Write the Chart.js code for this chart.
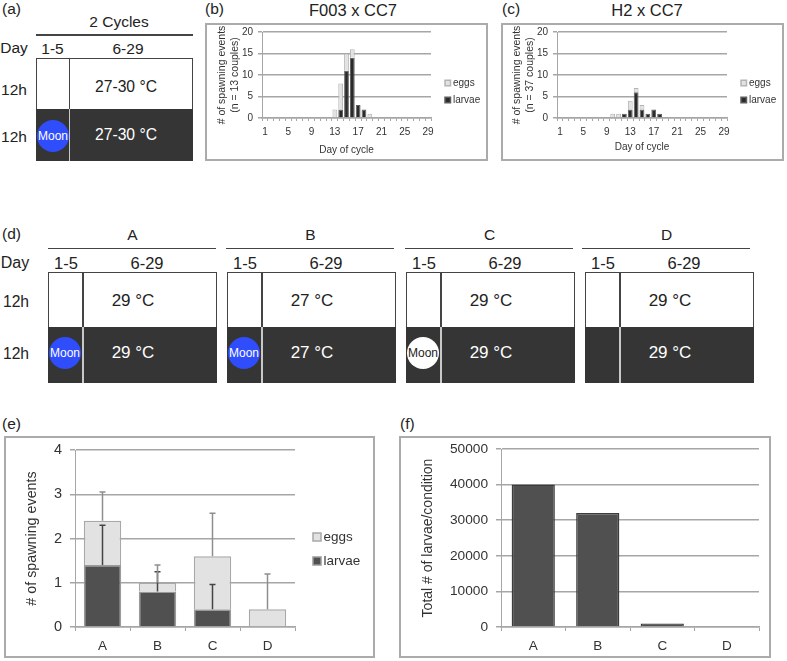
<!DOCTYPE html>
<html>
<head>
<meta charset="utf-8">
<script src="https://cdn.jsdelivr.net/npm/chart.js@4"></script>
<style>
  html, body { margin: 0; padding: 0; background: #fff; }
  #page { position: relative; width: 787px; height: 661px; overflow: hidden; font-family: "Liberation Sans", Arial, sans-serif; color: #222; }
  .txt { position: absolute; white-space: nowrap; transform: translate(-50%, -50%); line-height: 1; }
  .lbl { position: absolute; white-space: nowrap; font-size: 15.5px; line-height: 1; }
  .rect { position: absolute; box-sizing: border-box; }
  .frame { position: absolute; box-sizing: border-box; border: 2px solid #ababab; background: #fff; }
  canvas { position: absolute; }
</style>
</head>
<body>
<div id="page"></div>
<script>
Chart.defaults.font.family = '"Liberation Sans", Arial, sans-serif';
Chart.defaults.color = '#333';

// panels b and c, spawning events per day of cycle
const days = ['1','2','3','4','5','6','7','8','9','10','11','12','13','14','15','16','17','18','19','20','21','22','23','24','25','26','27','28','29'];
const dayLabels = ['1','5','9','13','17','21','25','29'];
const f003Larvae = [null,null,null,null,null,null,null,null,null,null,null,null,null,2,11,14,3,2,null,null,null,null,null,null,null,null,null,null,null];
const f003Eggs   = [null,null,null,null,null,null,null,null,null,null,null,null,2,6,4,2,null,null,1,null,null,null,null,null,null,null,null,null,null];
const h2Larvae   = [null,null,null,null,null,null,null,null,null,null,null,1,2,6,2,1,2,1,null,null,null,null,null,null,null,null,null,null,null];
const h2Eggs     = [null,null,null,null,null,null,null,null,null,1,1,null,2,1,1,null,null,null,null,null,null,null,null,null,null,null,null,null,null];

// panels e and f
const conditions = ['A','B','C','D'];
const larvaeMean = [1.4,0.8,0.4,null];
const eggsMean   = [1.0,0.2,1.2,0.4];
const larvaeErr  = [0.9,0.45,0.56,null];
const eggsErr    = [0.65,0.4,0.97,0.8];
const larvaeTotal = [40000,32000,1000,0];

// schedule panels a and d
const scheduleD = [
  { name: 'A', temp: '29 °C', moon: 'blue' },
  { name: 'B', temp: '27 °C', moon: 'blue' },
  { name: 'C', temp: '29 °C', moon: 'white' },
  { name: 'D', temp: '29 °C', moon: null }
];

const page = document.getElementById('page');

const addText = (text, x, y, size, color) => {
  const el = document.createElement('div');
  el.className = 'txt';
  el.textContent = text;
  el.style.left = x + 'px';
  el.style.top = y + 'px';
  el.style.fontSize = size + 'px';
  if (color) el.style.color = color;
  page.appendChild(el);
  return el;
};

const addLabel = (text, x, y) => {
  const el = document.createElement('div');
  el.className = 'lbl';
  el.textContent = text;
  el.style.left = x + 'px';
  el.style.top = y + 'px';
  page.appendChild(el);
};

const addRect = (x, y, w, h, color) => {
  const el = document.createElement('div');
  el.className = 'rect';
  el.style.cssText = `left:${x}px;top:${y}px;width:${w}px;height:${h}px;background:${color}`;
  page.appendChild(el);
  return el;
};

// one light/dark schedule box with its headers
const schedule = (o) => {
  addRect(o.left, o.lineY, o.right - o.left, 1.5, '#444');
  addText(o.title, o.titleX, o.lineY - 12.5, 15.5);
  addText('1-5', o.divX - 16, o.top - 9.5, o.headSize);
  addText('6-29', o.col2X, o.top - 9.5, o.headSize);
  // white half
  const top = addRect(o.boxL, o.top, o.boxR - o.boxL, o.mid - o.top, '#fff');
  top.style.border = '1.5px solid #444';
  top.style.borderBottom = 'none';
  // dark half
  addRect(o.boxL, o.mid, o.boxR - o.boxL, o.bottom - o.mid, '#353535');
  // divider
  addRect(o.divX, o.top, 1.5, o.mid - o.top, '#444');
  addRect(o.divX, o.mid, 1.5, o.bottom - o.mid, '#c8c8c8');
  addText(o.temp, o.tempX, o.tempY1, o.tempSize);
  addText(o.temp, o.tempX, o.tempY2, o.tempSize, '#fff');
  if (o.moon) {
    const c = addRect(o.moonX - 16, o.moonY - 16, 32, 32, o.moon === 'white' ? '#fff' : '#2f4dfb');
    c.style.borderRadius = '50%';
    addText('Moon', o.moonX + 0.5, o.moonY, 12, o.moon === 'white' ? '#222' : '#fff');
  }
};

// side legend, eggs over larvae as in the figure
const sideLegend = {
  id: 'sideLegend',
  afterDraw(chart, args, opts) {
    const ctx = chart.ctx;
    ctx.save();
    ctx.font = opts.size + 'px "Liberation Sans", Arial, sans-serif';
    ctx.textBaseline = 'middle';
    ctx.textAlign = 'left';
    const sets = chart.data.datasets.slice().reverse();
    sets.forEach((ds, i) => {
      const y = opts.ys[i];
      ctx.fillStyle = ds.backgroundColor;
      ctx.strokeStyle = ds.borderColor;
      ctx.lineWidth = 1.5;
      ctx.fillRect(opts.x, y - opts.box / 2, opts.box, opts.box);
      ctx.strokeRect(opts.x, y - opts.box / 2, opts.box, opts.box);
      ctx.fillStyle = '#333';
      ctx.fillText(ds.label, opts.x + opts.box + 2.5, y);
    });
    ctx.restore();
  }
};

// upper error bars on stacked bars
const errorBars = {
  id: 'errorBars',
  afterDatasetsDraw(chart) {
    const ctx = chart.ctx;
    const y = chart.scales.y;
    ctx.save();
    chart.data.datasets.forEach((ds, d) => {
      if (!ds.errors) return;
      const meta = chart.getDatasetMeta(d);
      ds.errors.forEach((err, i) => {
        if (err === null) return;
        let total = 0;
        for (let k = 0; k <= d; k++) total += chart.data.datasets[k].data[i] || 0;
        const px = meta.data[i].x;
        const from = y.getPixelForValue(total);
        const to = y.getPixelForValue(total + err);
        ctx.strokeStyle = ds.errorColor;
        ctx.lineWidth = 1.5;
        ctx.beginPath();
        ctx.moveTo(px, from);
        ctx.lineTo(px, to);
        ctx.moveTo(px - 3, to);
        ctx.lineTo(px + 3, to);
        ctx.stroke();
      });
    });
    ctx.restore();
  }
};

// canvas fills the frame; plot rectangle is pinned with afterFit
const makeChart = (frame, plot, config) => {
  const f = document.createElement('div');
  f.className = 'frame';
  f.style.cssText = `left:${frame.l}px;top:${frame.t}px;width:${frame.r - frame.l}px;height:${frame.b - frame.t}px`;
  page.appendChild(f);
  const cv = document.createElement('canvas');
  const w = frame.r - frame.l - 4, h = frame.b - frame.t - 4;
  cv.width = w;
  cv.height = h;
  cv.style.left = (frame.l + 2) + 'px';
  cv.style.top = (frame.t + 2) + 'px';
  page.appendChild(cv);
  const pad = { left: 0, top: plot.t - frame.t - 2, right: frame.r - 2 - plot.r, bottom: 0 };
  const o = config.options;
  o.responsive = false;
  o.animation = false;
  o.devicePixelRatio = 1;
  o.layout = { padding: pad };
  o.scales.y.afterFit = (s) => { s.width = plot.l - frame.l - 2; s.paddingTop = 0; s.paddingBottom = 0; };
  o.scales.x.afterFit = (s) => { s.height = frame.b - 2 - plot.b; s.paddingLeft = 0; s.paddingRight = 0; };
  return new Chart(cv, config);
};

const gridColor = '#a6a6a6';

const cycleChart = (frame, plot, larvae, eggs, yTitle, titlePad, xTitlePad, legendX, legendYs) => {
  makeChart(frame, plot, {
    type: 'bar',
    data: {
      labels: days,
      datasets: [
        { label: 'larvae', data: larvae, backgroundColor: '#2a2a2a', borderColor: '#5e5e5e', borderWidth: 1 },
        { label: 'eggs', data: eggs, backgroundColor: '#e2e2e2', borderColor: '#b4b4b4', borderWidth: 1 }
      ]
    },
    options: {
      datasets: { bar: { categoryPercentage: 0.82, barPercentage: 1 } },
      plugins: { legend: { display: false }, tooltip: { enabled: false }, sideLegend: { x: legendX, ys: legendYs, box: 5.5, size: 10 } },
      scales: {
        x: {
          stacked: true,
          grid: { offset: true, drawOnChartArea: false, color: gridColor, tickColor: gridColor, tickLength: 3, lineWidth: 1 },
          border: { color: gridColor, width: 1.5 },
          ticks: {
            autoSkip: false, maxRotation: 0, padding: 5, font: { size: 10 },
            callback: function (v) { const l = this.getLabelForValue(v); return dayLabels.includes(l) ? l : ''; }
          },
          title: { display: true, text: 'Day of cycle', font: { size: 10 }, padding: xTitlePad }
        },
        y: {
          stacked: true,
          min: 0, max: 20,
          grid: { color: gridColor, tickColor: gridColor, tickLength: 4, lineWidth: 1.5 },
          border: { color: gridColor, width: 1 },
          ticks: { stepSize: 5, padding: 5, font: { size: 10 } },
          title: { display: true, text: yTitle, font: { size: 10.5 }, padding: titlePad, lineHeight: 1.15 }
        }
      }
    },
    plugins: [sideLegend]
  });
};

// text labels and schedules
addLabel('(a)', 2, 1);
addLabel('(b)', 205, 1);
addLabel('(c)', 502, 1);
addLabel('(d)', 2, 226);
addLabel('(e)', 2, 416);
addLabel('(f)', 400, 416);

addText('Day', 14, 48, 15.5);
addText('12h', 14, 90, 15.5);
addText('12h', 14, 137, 15.5);
schedule({ title: '2 Cycles', titleX: 119, left: 36, right: 193, lineY: 34, boxL: 36, boxR: 193, top: 58, mid: 109, bottom: 161,
  divX: 68.5, col2X: 128, headSize: 15.5, temp: '27-30 °C', tempX: 126, tempY1: 87, tempY2: 135, tempSize: 15.7, moon: 'blue', moonX: 52.5, moonY: 136 });

addText('Day', 15, 263, 16);
addText('12h', 16, 302, 15.7);
addText('12h', 16, 354, 15.7);
const dLine = [48, 226, 405, 582];
const dBox = [48, 227, 406, 585];
scheduleD.forEach((c, i) => {
  const l = dBox[i];
  schedule({ title: c.name, titleX: dLine[i] + 84.5, left: dLine[i], right: dLine[i] + 168, lineY: 247.5, boxL: l, boxR: l + 169, top: 272, mid: 327, bottom: 383,
    divX: l + 34, col2X: l + 99, headSize: 16.5, temp: c.temp, tempX: l + 85, tempY1: 300, tempY2: 352, tempSize: 17, moon: c.moon, moonX: l + 16.5, moonY: 353 });
});

// charts
cycleChart({ l: 205, t: 23, r: 488, b: 161 }, { l: 262, t: 32, r: 431, b: 118 }, f003Larvae, f003Eggs,
  ['# of spawning events', '(n = 13 couples)'], { top: 9, bottom: 0 }, { top: 5, bottom: 3 }, 238, [58, 75]);
cycleChart({ l: 501, t: 23, r: 784, b: 161 }, { l: 557, t: 32, r: 727, b: 118 }, h2Larvae, h2Eggs,
  ['# of spawning events', '(n = 37 couples)'], { top: 8, bottom: 0 }, { top: 3, bottom: 6 }, 238, [58, 75]);

makeChart({ l: 4, t: 436, r: 375, b: 658 }, { l: 75, t: 450, r: 295, b: 627 }, {
  type: 'bar',
  data: {
    labels: conditions,
    datasets: [
      { label: 'larvae', data: larvaeMean, backgroundColor: '#505050', borderColor: '#9a9a9a', borderWidth: 1.5, errors: larvaeErr, errorColor: '#444' },
      { label: 'eggs', data: eggsMean, backgroundColor: '#e2e2e2', borderColor: '#a8a8a8', borderWidth: 1.5, errors: eggsErr, errorColor: '#8e8e8e' }
    ]
  },
  options: {
    datasets: { bar: { categoryPercentage: 0.68, barPercentage: 1 } },
    plugins: { legend: { display: false }, tooltip: { enabled: false }, sideLegend: { x: 307, ys: [99, 123], box: 8, size: 13.5 } },
    scales: {
      x: {
        stacked: true,
        grid: { offset: true, drawOnChartArea: false, color: gridColor, tickColor: gridColor, tickLength: 4, lineWidth: 1 },
        border: { color: gridColor, width: 1.5 },
        ticks: { padding: 7, font: { size: 13.5 } }
      },
      y: {
        stacked: true,
        min: 0, max: 4,
        grid: { color: gridColor, tickColor: gridColor, tickLength: 5, lineWidth: 1.5 },
        border: { color: gridColor, width: 1 },
        ticks: { stepSize: 1, padding: 8, font: { size: 14.5 } },
        title: { display: true, text: '# of spawning events', font: { size: 14.3 }, padding: { top: 17, bottom: 0 } }
      }
    }
  },
  plugins: [sideLegend, errorBars]
});

makeChart({ l: 399, t: 436, r: 771, b: 658 }, { l: 501, t: 449, r: 759, b: 627 }, {
  type: 'bar',
  data: {
    labels: conditions,
    datasets: [
      { label: 'larvae', data: larvaeTotal, backgroundColor: '#505050', borderColor: '#3c3c3c', borderWidth: 1.5 }
    ]
  },
  options: {
    datasets: { bar: { categoryPercentage: 0.67, barPercentage: 1 } },
    plugins: { legend: { display: false }, tooltip: { enabled: false } },
    scales: {
      x: {
        grid: { offset: true, drawOnChartArea: false, color: gridColor, tickColor: gridColor, tickLength: 4, lineWidth: 1 },
        border: { color: gridColor, width: 1.5 },
        ticks: { padding: 7, font: { size: 13.5 } }
      },
      y: {
        min: 0, max: 50000,
        grid: { color: gridColor, tickColor: gridColor, tickLength: 5, lineWidth: 1.5 },
        border: { color: gridColor, width: 1 },
        ticks: { stepSize: 10000, padding: 8, font: { size: 13.7 }, callback: (v) => String(v) },
        title: { display: true, text: 'Total # of larvae/condition', font: { size: 14 }, padding: { top: 19, bottom: 0 } }
      }
    }
  }
});

addText('F003 x CC7', 353, 10, 16.5);
addText('H2 x CC7', 647, 10, 16.5);
</script>
</body>
</html>
